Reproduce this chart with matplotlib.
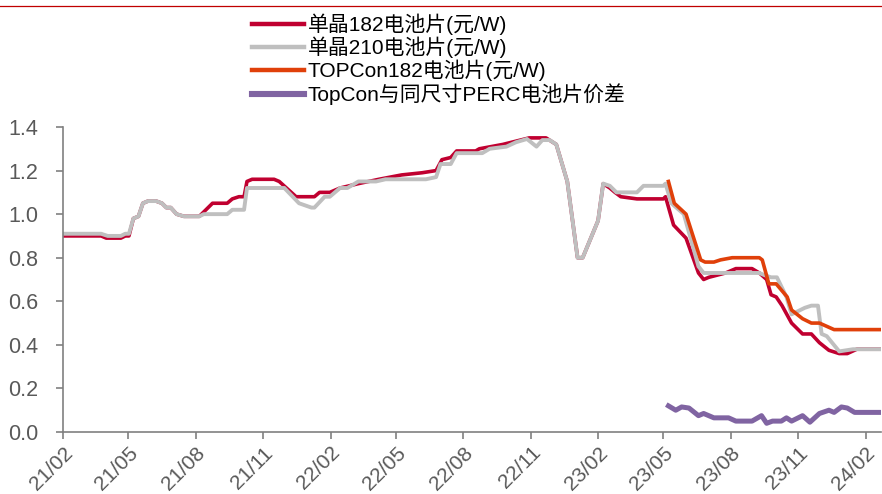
import pandas as pd
import matplotlib.pyplot as plt
import matplotlib.dates as mdates
from matplotlib.lines import Line2D

plt.rcParams['font.family'] = ['Liberation Sans', 'Noto Sans CJK SC']

# 单晶182电池片 (元/W)
d182 = ['2021-02-01', '2021-03-25', '2021-04-01', '2021-04-21', '2021-04-27', '2021-05-02',
        '2021-05-08', '2021-05-15', '2021-05-21', '2021-05-28', '2021-06-08', '2021-06-16',
        '2021-06-22', '2021-06-28', '2021-07-06', '2021-07-16', '2021-08-06', '2021-08-24',
        '2021-09-13', '2021-09-20', '2021-09-29', '2021-10-06', '2021-10-10', '2021-10-17',
        '2021-11-16', '2021-11-23', '2021-12-16', '2022-01-10', '2022-01-17', '2022-01-31',
        '2022-02-14', '2022-03-11', '2022-04-08', '2022-05-09', '2022-06-06', '2022-06-25',
        '2022-07-03', '2022-07-15', '2022-07-23', '2022-08-18', '2022-08-23', '2022-09-24',
        '2022-10-12', '2022-10-30', '2022-11-22', '2022-12-06', '2022-12-21', '2023-01-04',
        '2023-01-11', '2023-02-01', '2023-02-08', '2023-02-17', '2023-02-24', '2023-03-04',
        '2023-03-26', '2023-05-01', '2023-05-04', '2023-05-15', '2023-06-01', '2023-06-18',
        '2023-06-25', '2023-07-02', '2023-07-25', '2023-08-08', '2023-08-30', '2023-09-09',
        '2023-09-19', '2023-09-25', '2023-10-02', '2023-10-10', '2023-10-23', '2023-11-07',
        '2023-11-19', '2023-11-30', '2023-12-13', '2023-12-27', '2024-01-07', '2024-01-20',
        '2024-02-21']
v182 = [0.90, 0.90, 0.89, 0.89, 0.90, 0.90,
        0.98, 0.99, 1.05, 1.06, 1.06, 1.05,
        1.03, 1.03, 1.00, 0.99, 0.99, 1.05,
        1.05, 1.07, 1.08, 1.08, 1.15, 1.16,
        1.16, 1.15, 1.08, 1.08, 1.10, 1.10,
        1.12, 1.14, 1.16, 1.18, 1.19, 1.20,
        1.25, 1.26, 1.29, 1.29, 1.30, 1.32,
        1.335, 1.35, 1.35, 1.32, 1.15, 0.80,
        0.80, 0.97, 1.14, 1.12, 1.10, 1.08,
        1.07, 1.07, 1.08, 0.95, 0.89, 0.73,
        0.70, 0.71, 0.73, 0.75, 0.75, 0.73,
        0.70, 0.63, 0.62, 0.58, 0.50, 0.45,
        0.45, 0.41, 0.375, 0.36, 0.36, 0.38,
        0.38]

# 单晶210电池片 (元/W)
d210 = ['2021-02-01', '2021-03-25', '2021-04-03', '2021-04-21', '2021-04-27', '2021-05-02',
        '2021-05-08', '2021-05-15', '2021-05-21', '2021-05-28', '2021-06-08', '2021-06-16',
        '2021-06-22', '2021-06-28', '2021-07-06', '2021-07-16', '2021-08-06', '2021-08-12',
        '2021-09-13', '2021-09-20', '2021-10-06', '2021-10-10', '2021-11-30', '2021-12-20',
        '2022-01-06', '2022-01-10', '2022-01-24', '2022-01-31', '2022-02-14', '2022-02-24',
        '2022-03-11', '2022-04-04', '2022-04-17', '2022-06-11', '2022-06-25', '2022-07-01',
        '2022-07-15', '2022-07-23', '2022-08-27', '2022-09-06', '2022-09-29', '2022-10-12',
        '2022-10-27', '2022-11-09', '2022-11-17', '2022-11-27', '2022-12-06', '2022-12-21',
        '2023-01-04', '2023-01-11', '2023-02-01', '2023-02-08', '2023-02-17', '2023-02-26',
        '2023-03-26', '2023-04-04', '2023-05-01', '2023-05-04', '2023-05-12', '2023-05-29',
        '2023-06-18', '2023-06-25', '2023-09-09', '2023-09-16', '2023-09-25', '2023-10-03',
        '2023-10-16', '2023-10-23', '2023-11-10', '2023-11-19', '2023-11-28', '2023-12-03',
        '2023-12-10', '2023-12-27', '2024-01-15', '2024-02-21']
v210 = [0.91, 0.91, 0.90, 0.90, 0.91, 0.91,
        0.98, 0.99, 1.05, 1.06, 1.06, 1.05,
        1.03, 1.03, 1.00, 0.99, 0.99, 1.00,
        1.00, 1.02, 1.02, 1.12, 1.12, 1.05,
        1.03, 1.03, 1.08, 1.08, 1.12, 1.12,
        1.15, 1.15, 1.16, 1.16, 1.17, 1.23,
        1.23, 1.28, 1.28, 1.30, 1.31, 1.33,
        1.345, 1.31, 1.34, 1.34, 1.32, 1.15,
        0.80, 0.80, 0.97, 1.14, 1.13, 1.10,
        1.10, 1.13, 1.13, 1.14, 1.05, 1.00,
        0.76, 0.73, 0.73, 0.72, 0.71, 0.71,
        0.62, 0.54, 0.57, 0.58, 0.58, 0.45,
        0.44, 0.37, 0.38, 0.38]

# TOPCon182电池片 (元/W)
dtop = ['2023-05-08', '2023-05-16', '2023-06-01', '2023-06-21', '2023-06-27', '2023-07-09',
        '2023-07-18', '2023-08-03', '2023-09-09', '2023-09-13', '2023-09-22', '2023-10-02',
        '2023-10-17', '2023-10-23', '2023-11-07', '2023-11-19', '2023-11-30', '2023-12-20',
        '2024-02-21']
vtop = [1.15, 1.05, 1.00, 0.79, 0.78, 0.78,
        0.79, 0.80, 0.80, 0.79, 0.68, 0.68,
        0.62, 0.56, 0.52, 0.50, 0.50, 0.47,
        0.47]

# TopCon与同尺寸PERC电池片价差
dgap = ['2023-05-08', '2023-05-18', '2023-05-26', '2023-06-05', '2023-06-18', '2023-06-25',
        '2023-07-09', '2023-07-29', '2023-08-08', '2023-08-30', '2023-09-12', '2023-09-19',
        '2023-09-27', '2023-10-09', '2023-10-16', '2023-10-23', '2023-11-07', '2023-11-17',
        '2023-11-30', '2023-12-13', '2023-12-20', '2023-12-30', '2024-01-07', '2024-01-17',
        '2024-02-21']
vgap = [0.12, 0.10, 0.115, 0.11, 0.075, 0.085,
        0.065, 0.065, 0.05, 0.05, 0.075, 0.04,
        0.05, 0.05, 0.065, 0.05, 0.075, 0.045,
        0.085, 0.10, 0.09, 0.115, 0.11, 0.09,
        0.09]

labels = ['单晶182电池片(元/W)', '单晶210电池片(元/W)',
          'TOPCon182电池片(元/W)', 'TopCon与同尺寸PERC电池片价差']
colors = ['#C00030', '#BFBFBF', '#E0400A', '#8064A2']

fig = plt.figure(figsize=(8.82, 4.94), dpi=100)
ax = fig.add_axes([63 / 882, 1 - 432 / 494, 818 / 882, 305 / 494])

ax.plot(pd.to_datetime(d182), v182, color=colors[0], lw=2.6, label=labels[0])
ax.plot(pd.to_datetime(d210), v210, color=colors[1], lw=2.8, label=labels[1])
ax.plot(pd.to_datetime(dtop), vtop, color=colors[2], lw=2.6, label=labels[2])
ax.plot(pd.to_datetime(dgap), vgap, color=colors[3], lw=3.6, label=labels[3])

ax.set_ylim(0, 1.4)
ax.set_yticks([0.0, 0.2, 0.4, 0.6, 0.8, 1.0, 1.2, 1.4])
ax.yaxis.set_major_formatter(plt.FormatStrFormatter('%.1f'))
ax.set_xlim(pd.Timestamp('2021-02-01'), pd.Timestamp('2024-02-22'))
ax.xaxis.set_major_locator(mdates.MonthLocator(bymonth=[2, 5, 8, 11]))
ax.xaxis.set_major_formatter(mdates.DateFormatter('%y/%m'))

for s in ['top', 'right']:
    ax.spines[s].set_visible(False)
for s in ['left', 'bottom']:
    ax.spines[s].set_color('#808080')
    ax.spines[s].set_linewidth(1.2)
ax.tick_params(axis='both', colors='#808080', width=1.2, length=5, labelcolor='#595959')
ax.tick_params(axis='y', labelsize=15.5, pad=13)
ax.tick_params(axis='x', labelsize=15, pad=3)
for lab in ax.get_xticklabels():
    lab.set_rotation(45)
    lab.set_ha('right')
    lab.set_rotation_mode('anchor')

leg = ax.legend(loc='upper left', bbox_to_anchor=(0.27, 1.0), bbox_transform=fig.transFigure,
                frameon=False, fontsize=15, handlelength=2.5, handletextpad=0.2,
                labelspacing=0.08, borderaxespad=0.25)
for h, w in zip(leg.get_lines(), [3.2, 3.2, 3.2, 4.4]):
    h.set_linewidth(w)

# header rule across the top of the page
fig.add_artist(Line2D([0, 1], [1 - 6 / 494] * 2, color='#C00000', lw=0.9))

fig.savefig('out.png', dpi=100)
